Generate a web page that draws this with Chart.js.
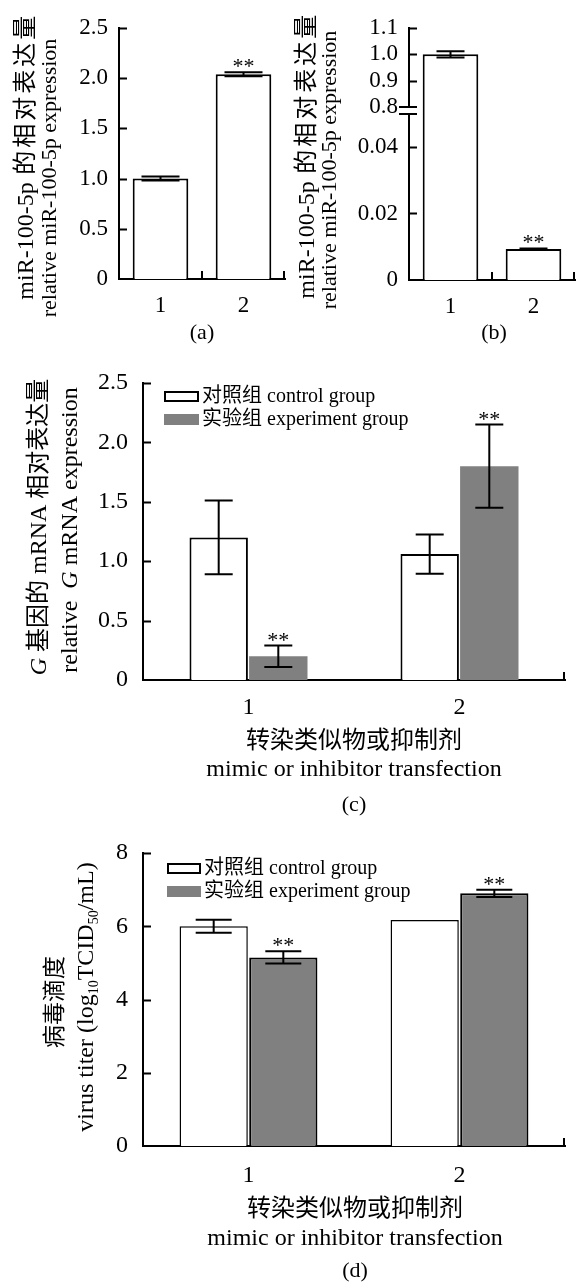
<!DOCTYPE html>
<html>
<head>
  <meta charset="utf-8">
  <title>miR-100-5p expression and virus titer</title>
  <script src="https://cdn.jsdelivr.net/npm/chart.js"></script>
  <style>
    body { margin: 0; background: #fff; }
    #page { position: relative; width: 576px; height: 1282px; background: #fff; }
    canvas { position: absolute; }
  </style>
</head>
<body>
<div id="page">
  <canvas id="chartA" width="290" height="350" style="left:0;top:0"></canvas>
  <canvas id="chartB" width="286" height="350" style="left:290px;top:0"></canvas>
  <canvas id="chartC" width="576" height="470" style="left:0;top:350px"></canvas>
  <canvas id="chartD" width="576" height="462" style="left:0;top:820px"></canvas>
</div>

<script>
// ---- data ----
const groups = ['1', '2'];

// (a)
const aValues = [1.00, 2.04];
const aErrors = [0.02, 0.02];
const aStars = [false, true];
const aTicks = [0, 0.5, 1.0, 1.5, 2.0, 2.5];
const aTickLabels = ['0', '0.5', '1.0', '1.5', '2.0', '2.5'];

// (b) - broken y axis
const bValues = [1.00, 0.0093];
const bErrors = [0.012, 0.0002];
const bStars = [false, true];
const bTicks = [0, 0.02, 0.04, 0.8, 0.9, 1.0, 1.1];
const bTickLabels = ['0', '0.02', '0.04', '0.8', '0.9', '1.0', '1.1'];

// (c)
const cControl = [1.20, 1.06];
const cControlErr = [0.31, 0.165];
const cExperiment = [0.20, 1.80];
const cExperimentErr = [0.09, 0.35];
const cTicks = [0, 0.5, 1.0, 1.5, 2.0, 2.5];
const cTickLabels = ['0', '0.5', '1.0', '1.5', '2.0', '2.5'];

// (d)
const dControl = [6.00, 6.17];
const dControlErr = [0.18, 0];
const dExperiment = [5.15, 6.90];
const dExperimentErr = [0.17, 0.10];
const dTicks = [0, 2, 4, 6, 8];
const dTickLabels = ['0', '2', '4', '6', '8'];

const seriesLabels = ['对照组 control group', '实验组 experiment group'];
const expStars = [true, true];
const noStars = [false, false];

// ---- style ----
const FONT = "'Liberation Serif', 'Noto Sans CJK SC', serif";
const GRAY = '#808080';
Chart.defaults.font.family = FONT;
Chart.defaults.color = '#000';

// broken axis for (b): values 0..0.052 take the lower part, 0.8..max the upper part
const BREAK_LOW = 0.052;
const BREAK_HIGH = 0.8;
const BREAK_FRAC = 0.6865;

class BrokenScale extends Chart.LinearScale {
  getPixelForValue(value) {
    if (value === null || value === undefined) return NaN;
    let f;
    if (value <= BREAK_LOW) f = value / BREAK_LOW * BREAK_FRAC;
    else if (value < BREAK_HIGH) f = BREAK_FRAC;
    else f = BREAK_FRAC + (value - BREAK_HIGH) / (this.max - BREAK_HIGH) * (1 - BREAK_FRAC);
    return this.getPixelForDecimal(f);
  }
  getValueForPixel(pixel) {
    const f = this.getDecimalForPixel(pixel);
    if (f <= BREAK_FRAC) return f / BREAK_FRAC * BREAK_LOW;
    return BREAK_HIGH + (f - BREAK_FRAC) / (1 - BREAK_FRAC) * (this.max - BREAK_HIGH);
  }
}
BrokenScale.id = 'broken';
BrokenScale.defaults = Chart.LinearScale.defaults;
Chart.register(BrokenScale);

// text, legend, inward ticks and error bars per panel
const panelExtras = {
  chartA: {
    cap: 38, xTicks: 'both',
    texts: [
      { x: 27, y: 157, rot: true, size: 24, runs: ['miR-100-5p ', { t: '的相对表达量', adv: 27 }] },
      { x: 50, y: 178, rot: true, size: 22, runs: ['relative miR-100-5p expression'] },
      { x: 202, y: 333, size: 22, runs: ['(a)'] }
    ]
  },
  chartB: {
    cap: 28, xTicks: 'both', breakValue: 0.8,
    texts: [
      { x: 18, y: 156, rot: true, size: 24, runs: ['miR-100-5p ', { t: '的相对表达量', adv: 27 }] },
      { x: 40, y: 170, rot: true, size: 22, runs: ['relative miR-100-5p expression'] },
      { x: 204, y: 333, size: 22, runs: ['(b)'] }
    ]
  },
  chartC: {
    cap: 28, xTicks: 'end',
    legend: { x: 164, y: 41, w: 35, h: 11, gap: 23, size: 20, border: [true, false] },
    texts: [
      { x: 40, y: 177, rot: true, size: 24, runs: [{ t: 'G', i: true }, ' 基因的 mRNA 相对表达量'] },
      { x: 71, y: 180, rot: true, size: 24, runs: ['relative  ', { t: 'G', i: true }, ' mRNA expression'] },
      { x: 354, y: 392, size: 24, runs: ['转染类似物或抑制剂'] },
      { x: 354, y: 420, size: 24, runs: ['mimic or inhibitor transfection'] },
      { x: 354, y: 455, size: 22, runs: ['(c)'] }
    ]
  },
  chartD: {
    cap: 36, xTicks: 'end',
    legend: { x: 167, y: 43, w: 34, h: 11, gap: 23, size: 20, border: [true, false] },
    texts: [
      { x: 56, y: 182, rot: true, size: 23, runs: ['病毒滴度'] },
      { x: 87, y: 177, rot: true, size: 24, runs: ['virus titer (log', { t: '10', sub: true }, 'TCID', { t: '50', sub: true }, '/mL)'] },
      { x: 355, y: 390, size: 24, runs: ['转染类似物或抑制剂'] },
      { x: 355, y: 419, size: 24, runs: ['mimic or inhibitor transfection'] },
      { x: 355, y: 451, size: 22, runs: ['(d)'] }
    ]
  }
};

function drawRich(ctx, item) {
  const runs = item.runs.map(r => typeof r === 'string' ? { t: r } : Object.assign({}, r));
  const fontOf = r => (r.i ? 'italic ' : '') + Math.round(r.sub ? item.size * 0.6 : item.size) + 'px ' + FONT;
  let total = 0;
  runs.forEach(r => {
    ctx.font = fontOf(r);
    r.w = r.adv ? r.adv * r.t.length : ctx.measureText(r.t).width;
    total += r.w;
  });
  ctx.save();
  ctx.translate(item.x, item.y);
  if (item.rot) ctx.rotate(-Math.PI / 2);
  ctx.fillStyle = '#000';
  ctx.textBaseline = 'middle';
  let u = -total / 2;
  runs.forEach(r => {
    ctx.font = fontOf(r);
    if (r.adv) {
      // fixed advance per character (wider spacing than the font's own)
      ctx.textAlign = 'center';
      [...r.t].forEach((ch, k) => ctx.fillText(ch, u + r.adv * (k + 0.5), 0));
    } else {
      ctx.textAlign = 'left';
      ctx.fillText(r.t, u, r.sub ? item.size * 0.3 : 0);
    }
    u += r.w;
  });
  ctx.restore();
}

const extrasPlugin = {
  id: 'extras',
  afterDraw(chart) {
    const cfg = panelExtras[chart.canvas.id];
    if (!cfg) return;
    const ctx = chart.ctx;
    const area = chart.chartArea;
    const xs = chart.scales.x, ys = chart.scales.y;
    ctx.save();
    ctx.strokeStyle = '#000';
    ctx.lineWidth = 2;

    // inward y ticks
    ctx.beginPath();
    ys.ticks.forEach(t => {
      if (t.value === 0 || t.value === cfg.breakValue) return;
      const py = Math.round(ys.getPixelForValue(t.value)) + 0.5;
      ctx.moveTo(area.left, py);
      ctx.lineTo(area.left + 8, py);
    });
    // inward x ticks
    const xt = [area.right - 1];
    if (cfg.xTicks === 'both') xt.push(xs.getPixelForValue(0.5));
    xt.forEach(px => {
      ctx.moveTo(Math.round(px), area.bottom);
      ctx.lineTo(Math.round(px), area.bottom - 8);
    });
    ctx.stroke();

    // axis break marks
    if (cfg.breakValue !== undefined) {
      const py = Math.round(ys.getPixelForValue(cfg.breakValue));
      ctx.fillStyle = '#fff';
      ctx.fillRect(area.left - 3, py + 1, 6, 6);
      ctx.beginPath();
      ctx.moveTo(area.left - 10, py); ctx.lineTo(area.left + 8, py);
      ctx.moveTo(area.left - 10, py + 7); ctx.lineTo(area.left + 8, py + 7);
      ctx.stroke();
    }

    // error bars and significance marks
    chart.data.datasets.forEach((ds, i) => {
      const meta = chart.getDatasetMeta(i);
      meta.data.forEach((bar, j) => {
        const v = ds.data[j], e = ds.errors[j];
        const top = ys.getPixelForValue(v + e);
        const bot = ys.getPixelForValue(v - e);
        const half = cfg.cap / 2;
        ctx.lineWidth = 2;
        if (e > 0) {
          ctx.beginPath();
          ctx.moveTo(bar.x, top); ctx.lineTo(bar.x, bot);
          ctx.moveTo(bar.x - half, top); ctx.lineTo(bar.x + half, top);
          ctx.moveTo(bar.x - half, bot); ctx.lineTo(bar.x + half, bot);
          ctx.stroke();
        }
        if (ds.stars && ds.stars[j]) {
          ctx.fillStyle = '#000';
          ctx.font = '22px ' + FONT;
          ctx.textAlign = 'center';
          ctx.textBaseline = 'alphabetic';
          ctx.fillText('**', bar.x, top + 1);
        }
      });
    });

    // legend inside the plot
    if (cfg.legend) {
      const L = cfg.legend;
      chart.data.datasets.forEach((ds, i) => {
        const by = L.y + i * L.gap;
        ctx.fillStyle = ds.backgroundColor;
        ctx.fillRect(L.x, by, L.w, L.h);
        if (L.border[i]) {
          ctx.strokeStyle = '#000';
          ctx.lineWidth = 2;
          ctx.strokeRect(L.x + 1, by + 1, L.w - 2, L.h - 2);
        }
        ctx.fillStyle = '#000';
        ctx.font = L.size + 'px ' + FONT;
        ctx.textAlign = 'left';
        ctx.textBaseline = 'middle';
        ctx.fillText(ds.label, L.x + L.w + 3, by + L.h / 2);
      });
    }

    cfg.texts.forEach(item => drawRich(ctx, item));
    ctx.restore();
  }
};
Chart.register(extrasPlugin);

function yAxis(type, max, ticks, labels, width, fontSize, pad) {
  return {
    type: type, min: 0, max: max,
    afterBuildTicks: s => { s.ticks = ticks.map(v => ({ value: v })); },
    afterFit: s => { s.width = width; },
    grid: { display: false, drawTicks: false },
    border: { color: '#000', width: 2 },
    ticks: { color: '#000', font: { size: fontSize }, padding: pad, callback: (v, i) => labels[i] }
  };
}

function xAxis(height, fontSize, pad) {
  return {
    type: 'category', offset: true,
    afterFit: s => { s.height = height; },
    grid: { display: false, drawTicks: false },
    border: { color: '#000', width: 2 },
    ticks: { color: '#000', font: { size: fontSize }, padding: pad }
  };
}

function baseOptions(pad, x, y) {
  return {
    responsive: false,
    animation: false,
    layout: { padding: pad },
    plugins: { legend: { display: false }, tooltip: { enabled: false } },
    scales: { x: x, y: y }
  };
}

// (a)
new Chart(document.getElementById('chartA'), {
  type: 'bar',
  data: {
    labels: groups,
    datasets: [{
      data: aValues, errors: aErrors, stars: aStars,
      backgroundColor: '#fff', borderColor: '#000', borderWidth: 2,
      categoryPercentage: 0.67, barPercentage: 1
    }]
  },
  options: baseOptions({ top: 28, right: 5, left: 0, bottom: 0 },
    xAxis(71, 23, 13), yAxis('linear', 2.5, aTicks, aTickLabels, 119, 23, 11))
});

// (b)
new Chart(document.getElementById('chartB'), {
  type: 'bar',
  data: {
    labels: groups,
    datasets: [{
      data: bValues, errors: bErrors, stars: bStars,
      backgroundColor: '#fff', borderColor: '#000', borderWidth: 2,
      categoryPercentage: 0.67, barPercentage: 1
    }]
  },
  options: baseOptions({ top: 28, right: 1, left: 0, bottom: 0 },
    xAxis(70, 23, 13), yAxis('broken', 1.1, bTicks, bTickLabels, 119, 23, 11))
});

// (c)
new Chart(document.getElementById('chartC'), {
  type: 'bar',
  data: {
    labels: groups,
    datasets: [
      { label: seriesLabels[0], data: cControl, errors: cControlErr, stars: noStars,
        backgroundColor: '#fff', borderColor: '#000', borderWidth: 2 },
      { label: seriesLabels[1], data: cExperiment, errors: cExperimentErr, stars: expStars,
        backgroundColor: GRAY, borderColor: GRAY, borderWidth: 0 }
    ]
  },
  options: Object.assign(
    baseOptions({ top: 33, right: 11, left: 0, bottom: 0 },
      xAxis(140, 24, 13), yAxis('linear', 2.5, cTicks, cTickLabels, 143, 24, 15)),
    { datasets: { bar: { categoryPercentage: 0.565, barPercentage: 0.98 } } }
  )
});

// (d)
new Chart(document.getElementById('chartD'), {
  type: 'bar',
  data: {
    labels: groups,
    datasets: [
      { label: seriesLabels[0], data: dControl, errors: dControlErr, stars: noStars,
        backgroundColor: '#fff', borderColor: '#000', borderWidth: 1.5 },
      { label: seriesLabels[1], data: dExperiment, errors: dExperimentErr, stars: expStars,
        backgroundColor: GRAY, borderColor: '#000', borderWidth: 2 }
    ]
  },
  options: Object.assign(
    baseOptions({ top: 33, right: 11, left: 0, bottom: 0 },
      xAxis(136, 24, 15), yAxis('linear', 8, dTicks, dTickLabels, 143, 24, 15)),
    { datasets: { bar: { categoryPercentage: 0.66, barPercentage: 0.98 } } }
  )
});
</script>
</body>
</html>
